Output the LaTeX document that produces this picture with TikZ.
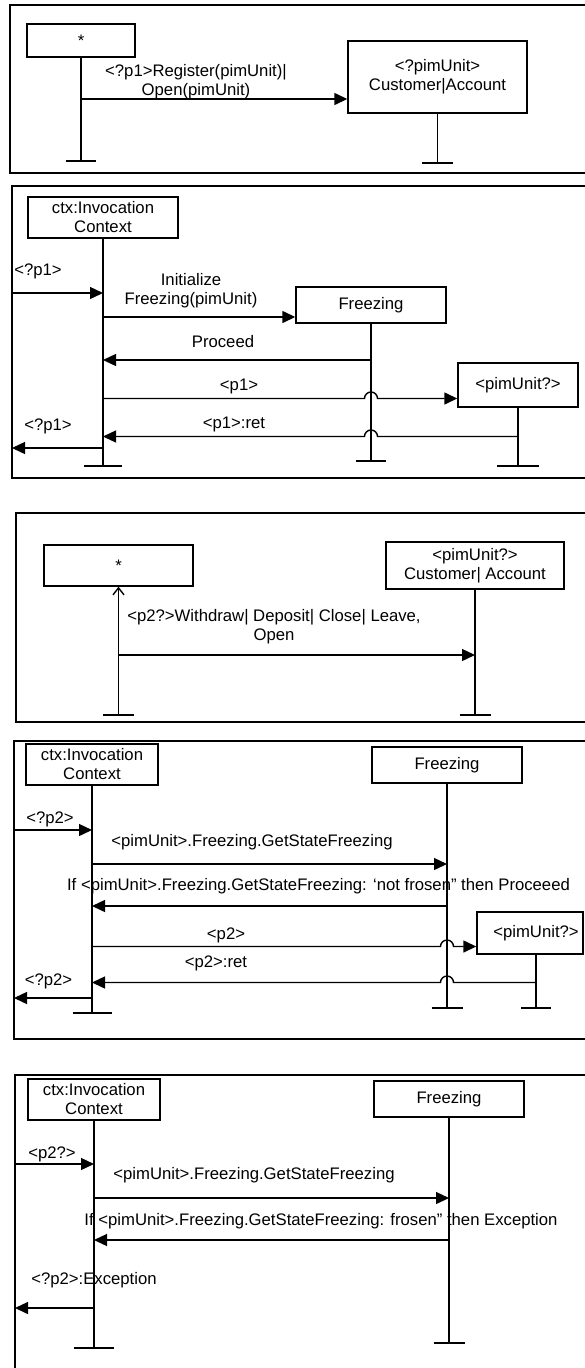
\documentclass[tikz,border=0pt]{standalone}
\usepackage{fontspec}
\setmainfont{Liberation Sans}
\usetikzlibrary{arrows.meta,calc}
\begin{document}
\begin{tikzpicture}[x=1pt,y=-1pt,
  every node/.style={font=\fontsize{16.7}{19}\selectfont},
  box/.style={draw,line width=1.4pt,inner sep=0pt,align=center},
  lbl/.style={inner sep=0pt,align=center},
  life/.style={line width=1.4pt},
  msg/.style={line width=1.4pt,-{Triangle[length=13pt,width=12pt]}},
  frm/.style={line width=1.6pt}]
\useasboundingbox (0,0) rectangle (585,1368);
\clip (0,0) rectangle (585,1368);

% ---------------- Panel 1
\draw[frm] (600,5) -- (10,5) -- (10,173) -- (600,173);
\node[box,minimum width=108pt,minimum height=33pt] (a1) at (81,40.5) {*};
\node[box,minimum width=179pt,minimum height=72pt] (c1) at (437.5,77) {<?pimUnit>\\Customer|Account};
\coordinate (a1e) at (81,161);
\coordinate (c1e) at (437.5,163);
\draw[life] (a1.south) -- (a1e) ++(-15,0) -- ++(30,0);
\draw[life] (c1.south) -- (c1e) ++(-15.5,0) -- ++(31,0);
\coordinate (m11) at (81,99);
\draw[msg] (m11) -- (c1.west |- m11);
\node[lbl] (l11) at (196,81.5) {<?p1>Register(pimUnit)|\\Open(pimUnit)};

% ---------------- Panel 2
\draw[frm] (600,186) -- (12,186) -- (12,478) -- (600,478);
\node[box,minimum width=150pt,minimum height=41pt] (ctx2) at (103,217.5) {ctx:Invocation\\Context};
\node[box,minimum width=150pt,minimum height=36pt] (fz2) at (371,305) {Freezing};
\node[box,minimum width=120pt,minimum height=44pt] (pu2) at (518,385) {<pimUnit?>};
\coordinate (ctx2e) at (103,466);
\coordinate (fz2e) at (371,461);
\coordinate (pu2e) at (518,466);
\draw[life] (ctx2.south) -- (ctx2e) ++(-19,0) -- ++(38,0);
\draw[life] (fz2.south) -- (fz2e) ++(-15,0) -- ++(30,0);
\draw[life] (pu2.south) -- (pu2e) ++(-21,0) -- ++(42,0);
\coordinate (f2) at (12,293);
\draw[msg] (f2) -- (ctx2e |- f2);
\coordinate (m21) at (103,317);
\draw[msg] (m21) -- (fz2.west |- m21);
\coordinate (m22) at (371,360);
\draw[msg] (m22) -- (ctx2e |- m22);
\coordinate (m23) at (103,398.5);
\draw[msg] (m23) -- ($(fz2e |- m23)+(-6.5,0)$) arc[start angle=180,end angle=0,radius=6.5pt] -- (pu2.west |- m23);
\coordinate (m24) at (518,436.5);
\draw[msg] (m24) -- ($(fz2e |- m24)+(6.5,0)$) arc[start angle=0,end angle=180,radius=6.5pt] -- (ctx2e |- m24);
\coordinate (m25) at (103,448);
\draw[msg] (m25) -- (f2 |- m25);
\node[lbl] (l21) at (38,271) {<?p1>};
\node[lbl] (l22) at (191,291) {Initialize\\Freezing(pimUnit)};
\node[lbl] (l23) at (223,342) {Proceed};
\node[lbl] (l24) at (239,386) {<p1>};
\node[lbl] (l25) at (234,424) {<p1>:ret};
\node[lbl] (l26) at (48,426) {<?p1>};

% ---------------- Panel 3
\draw[frm] (600,513) -- (16,513) -- (16,722) -- (600,722);
\node[box,minimum width=149pt,minimum height=41pt] (s3) at (118.5,565.5) {*};
\node[box,minimum width=178pt,minimum height=47pt] (c3) at (475,565.5) {<pimUnit?>\\Customer| Account};
\coordinate (s3e) at (118.5,715);
\coordinate (c3e) at (475,715);
\draw[life,{Straight Barb[length=7pt,width=11pt]}-] (s3.south) -- (s3e);
\draw[life] (s3e) ++(-15.5,0) -- ++(31,0);
\draw[life] (c3.south) -- (c3e) ++(-15.5,0) -- ++(31,0);
\coordinate (m31) at (118.5,655);
\draw[msg] (m31) -- (c3e |- m31);
\node[lbl] (l31) at (274,627) {<p2?>Withdraw| Deposit| Close| Leave,\\Open};

% ---------------- Panel 4
\draw[frm] (600,741) -- (14,741) -- (14,1039) -- (600,1039);
\node[box,minimum width=132pt,minimum height=41pt] (ctx4) at (92,764.5) {ctx:Invocation\\Context};
\node[box,minimum width=150pt,minimum height=36pt] (fz4) at (447,765) {Freezing};
\node[box,minimum width=106pt,minimum height=42pt] (pu4) at (530,933) {\hspace*{12pt}<pimUnit?>};
\coordinate (ctx4e) at (92,1013);
\coordinate (fz4e) at (447,1008);
\coordinate (pu4e) at (536,1008);
\draw[life] (ctx4.south) -- (ctx4e) ++(-19.5,0) -- ++(39,0);
\draw[life] (fz4.south) -- (fz4e) ++(-15.5,0) -- ++(31,0);
\draw[life] (pu4.south -| pu4e) -- (pu4e) ++(-15,0) -- ++(30,0);
\coordinate (f4) at (14,830);
\draw[msg] (f4) -- (ctx4e |- f4);
\coordinate (m41) at (92,864);
\draw[msg] (m41) -- (fz4e |- m41);
\coordinate (m42) at (447,906);
\draw[msg] (m42) -- (ctx4e |- m42);
\coordinate (m43) at (92,946.5);
\draw[msg] (m43) -- ($(fz4e |- m43)+(-6.5,0)$) arc[start angle=180,end angle=0,radius=6.5pt] -- (pu4.west |- m43);
\coordinate (m44) at (536,982.5);
\draw[msg] (m44) -- ($(fz4e |- m44)+(6.5,0)$) arc[start angle=0,end angle=180,radius=6.5pt] -- (ctx4e |- m44);
\coordinate (m45) at (92,998);
\draw[msg] (m45) -- (f4 |- m45);
\node[lbl] (l41) at (50,819) {<?p2>};
\node[lbl] (l42) at (252,842) {<pimUnit>.Freezing.GetStateFreezing};
\node[lbl] (l43) at (318.5,886) {If <pimUnit>.Freezing.GetStateFreezing: ‘not frosen” then Proceeed};
\node[lbl] (l44) at (226,935) {<p2>};
\node[lbl] (l45) at (216,963) {<p2>:ret};
\node[lbl] (l46) at (48.5,981) {<?p2>};

% ---------------- Panel 5
\draw[frm] (600,1075) -- (15,1075) -- (15,1390);
\node[box,minimum width=132pt,minimum height=41pt] (ctx5) at (94,1099.5) {ctx:Invocation\\Context};
\node[box,minimum width=150pt,minimum height=36pt] (fz5) at (449,1099) {Freezing};
\coordinate (ctx5e) at (94,1348);
\coordinate (fz5e) at (449,1343);
\draw[life] (ctx5.south) -- (ctx5e) ++(-20,0) -- ++(40,0);
\draw[life] (fz5.south) -- (fz5e) ++(-15.5,0) -- ++(31,0);
\coordinate (f5) at (15,1164);
\draw[msg] (f5) -- (ctx5e |- f5);
\coordinate (m51) at (94,1198);
\draw[msg] (m51) -- (fz5e |- m51);
\coordinate (m52) at (449,1240);
\draw[msg] (m52) -- (ctx5e |- m52);
\coordinate (m53) at (94,1308);
\draw[msg] (m53) -- (f5 |- m53);
\node[lbl] (l51) at (52,1154) {<p2?>};
\node[lbl] (l52) at (254,1175) {<pimUnit>.Freezing.GetStateFreezing};
\node[lbl] (l53) at (321,1221) {If <pimUnit>.Freezing.GetStateFreezing: frosen” then Exception};
\node[lbl] (l54) at (94,1280) {<?p2>:Exception};
\end{tikzpicture}
\end{document}
